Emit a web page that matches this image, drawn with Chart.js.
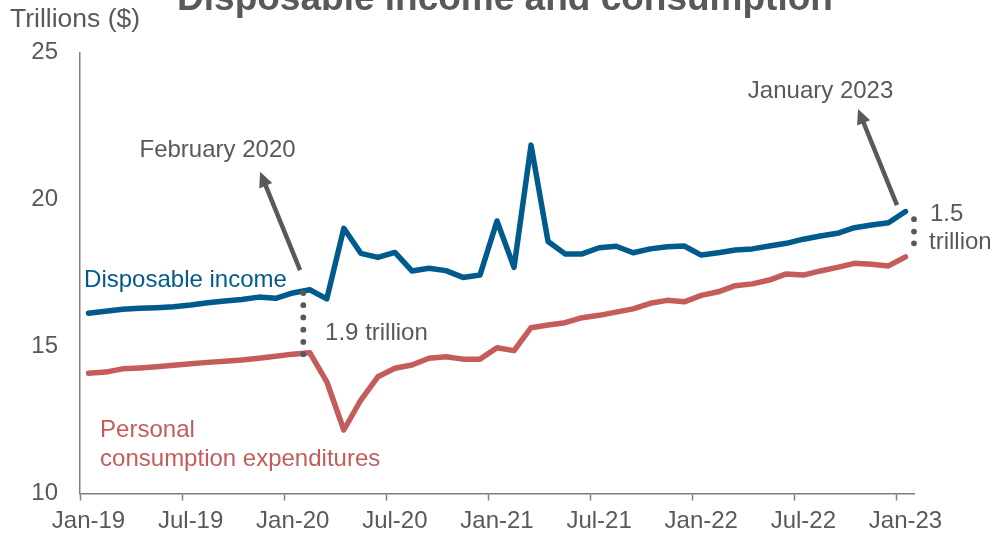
<!DOCTYPE html>
<html><head><meta charset="utf-8">
<script src="https://cdn.jsdelivr.net/npm/chart.js@4"></script>
<style>html,body{margin:0;padding:0;background:#fff}#wrap{width:992px;height:535px}</style>
</head><body><div id="wrap"><canvas id="c" width="992" height="535"></canvas></div>
<script>
const months = ['Jan-19','Feb-19','Mar-19','Apr-19','May-19','Jun-19','Jul-19','Aug-19','Sep-19','Oct-19','Nov-19','Dec-19',
'Jan-20','Feb-20','Mar-20','Apr-20','May-20','Jun-20','Jul-20','Aug-20','Sep-20','Oct-20','Nov-20','Dec-20',
'Jan-21','Feb-21','Mar-21','Apr-21','May-21','Jun-21','Jul-21','Aug-21','Sep-21','Oct-21','Nov-21','Dec-21',
'Jan-22','Feb-22','Mar-22','Apr-22','May-22','Jun-22','Jul-22','Aug-22','Sep-22','Oct-22','Nov-22','Dec-22','Jan-23'];
const tickLabels = ['Jan-19','Jul-19','Jan-20','Jul-20','Jan-21','Jul-21','Jan-22','Jul-22','Jan-23'];
const disposableIncome = [16.13,16.20,16.27,16.30,16.32,16.35,16.41,16.49,16.55,16.60,16.68,16.64,
16.82,16.93,16.62,19.02,18.17,18.03,18.20,17.57,17.66,17.58,17.35,17.43,
19.27,17.69,21.85,18.57,18.15,18.15,18.36,18.41,18.19,18.32,18.39,18.42,
18.11,18.19,18.28,18.32,18.42,18.51,18.65,18.76,18.85,19.04,19.13,19.21,19.59];
const consumption = [14.09,14.13,14.24,14.27,14.31,14.36,14.41,14.46,14.50,14.54,14.60,14.67,
14.74,14.79,13.80,12.16,13.18,13.97,14.26,14.37,14.60,14.65,14.57,14.57,
14.96,14.86,15.64,15.73,15.81,15.98,16.06,16.17,16.28,16.47,16.57,16.52,
16.74,16.86,17.07,17.13,17.26,17.47,17.43,17.57,17.69,17.83,17.80,17.74,18.05];
const yTicks = [10,15,20,25];

const GRAY = '#595959', AXIS = '#7f7f7f', BLUE = '#005A8C', RED = '#C45C5C';
Chart.defaults.font.family = "'Liberation Sans', Arial, sans-serif";
Chart.defaults.color = GRAY;

const annot = {
  id: 'annot',
  afterDraw(chart) {
    const {ctx, scales: {x, y}} = chart;
    const x0 = x.getPixelForValue(0), dx = x.getPixelForValue(1) - x0;
    const px = i => x0 + i * dx;
    const py = v => y.getPixelForValue(v);
    ctx.save();
    // title
    ctx.fillStyle = GRAY;
    ctx.font = "bold 37px 'Liberation Sans', Arial, sans-serif";
    ctx.textAlign = 'center'; ctx.textBaseline = 'alphabetic';
    ctx.fillText('Disposable income and consumption', 505, 10);
    // axis title
    ctx.font = "26.5px 'Liberation Sans', Arial, sans-serif";
    ctx.textAlign = 'left'; ctx.textBaseline = 'middle';
    ctx.fillText('Trillions ($)', 10, 20);
    const text = (s, i, v, color, align) => {
      ctx.fillStyle = color; ctx.textAlign = align || 'left'; ctx.textBaseline = 'middle';
      ctx.font = "24px 'Liberation Sans', Arial, sans-serif";
      ctx.fillText(s, px(i), py(v));
    };
    text('Disposable income', -0.26, 17.26, BLUE);
    text('Personal', 0.68, 12.16, RED);
    text('consumption expenditures', 0.68, 11.17, RED);
    text('1.9 trillion', 13.9, 15.46, GRAY);
    text('February 2020', 7.58, 21.68, GRAY, 'center');
    text('January 2023', 43.01, 23.69, GRAY, 'center');
    text('1.5', 49.44, 19.51, GRAY);
    text('trillion', 49.38, 18.55, GRAY);
    // dots
    ctx.fillStyle = GRAY;
    const dot = (i, v) => { ctx.beginPath(); ctx.arc(px(i), py(v), 2.9, 0, Math.PI * 2); ctx.fill(); };
    const n = 6, top = 16.82, bot = 14.74;
    for (let k = 0; k < n; k++) dot(12.62, top - (top - bot) * k / (n - 1));
    [19.33, 18.91, 18.51].forEach(v => dot(48.5, v));
    // arrows
    const arrow = (i1, v1, i2, v2) => {
      const x1 = px(i1), y1 = py(v1), x2 = px(i2), y2 = py(v2);
      const ang = Math.atan2(y2 - y1, x2 - x1), L = 15, W = 7;
      const bx = x2 - L * Math.cos(ang), by = y2 - L * Math.sin(ang);
      ctx.strokeStyle = GRAY; ctx.lineWidth = 4.5; ctx.lineCap = 'butt';
      ctx.beginPath(); ctx.moveTo(x1, y1); ctx.lineTo(bx + 2 * Math.cos(ang), by + 2 * Math.sin(ang)); ctx.stroke();
      ctx.fillStyle = GRAY;
      ctx.beginPath(); ctx.moveTo(x2, y2);
      ctx.lineTo(bx + W * Math.sin(ang), by - W * Math.cos(ang));
      ctx.lineTo(bx - W * Math.sin(ang), by + W * Math.cos(ang));
      ctx.closePath(); ctx.fill();
    };
    arrow(12.43, 17.6, 10.08, 20.94);
    arrow(47.5, 19.81, 45.21, 23.08);
    ctx.restore();
  }
};

new Chart(document.getElementById('c'), {
  type: 'line',
  data: {
    labels: months,
    datasets: [
      {label: 'Disposable income', data: disposableIncome, borderColor: BLUE, borderWidth: 5.5, pointRadius: 0, tension: 0, borderJoinStyle: 'round', borderCapStyle: 'round'},
      {label: 'Personal consumption expenditures', data: consumption, borderColor: RED, borderWidth: 5.5, pointRadius: 0, tension: 0, borderJoinStyle: 'round', borderCapStyle: 'round'}
    ]
  },
  options: {
    responsive: false, animation: false, devicePixelRatio: 1,
    layout: {padding: {top: 52.5, right: 78, left: 0, bottom: 0}},
    plugins: {legend: {display: false}, tooltip: {enabled: false}, title: {display: false}},
    scales: {
      x: {
        type: 'category', offset: true,
        afterFit(s) { s.height = 41.5; },
        grid: {display: true, drawOnChartArea: false, drawTicks: true, tickLength: 7, offset: true, tickWidth: 1.5,
          tickColor: c => (c.index !== undefined && c.index % 6 === 0) ? AXIS : 'rgba(0,0,0,0)'},
        border: {display: true, color: AXIS, width: 1.5},
        ticks: {autoSkip: false, maxRotation: 0, padding: 6, color: GRAY, font: {size: 24},
          callback: (v, i) => (i % 6 === 0) ? tickLabels[i / 6] : ''}
      },
      y: {
        min: 10, max: 25,
        afterFit(s) { s.width = 80; },
        afterBuildTicks(s) { s.ticks = yTicks.map(v => ({value: v})); },
        grid: {display: true, drawOnChartArea: false, drawTicks: false},
        border: {display: true, color: AXIS, width: 1.5},
        ticks: {padding: 22, color: GRAY, font: {size: 24}}
      }
    }
  },
  plugins: [annot]
});
</script>
</body></html>
